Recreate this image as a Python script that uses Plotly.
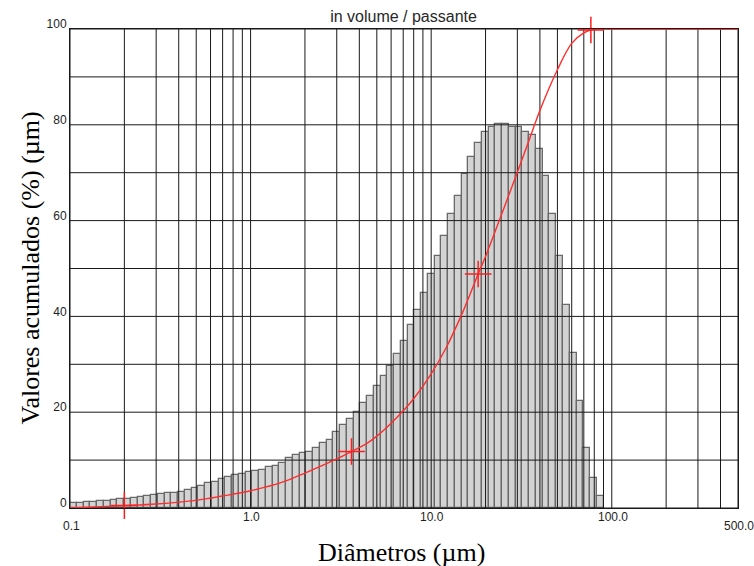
import numpy as np
import plotly.graph_objects as go

# ---------------- data ----------------
# size classes (µm): log-uniform classes between these limits
class_min = 0.1
class_max = 90.0
n_classes = 79

# differential volume per class
hist_values = [
    1.0, 1.0, 1.2, 1.3, 1.45, 1.45, 1.67, 1.9, 1.9, 2.15, 2.35, 2.5, 2.7, 2.9, 3.05, 3.05, 3.4,
    3.7, 4.1, 4.6, 5.15, 5.5, 6.05, 6.4, 6.8, 7.1, 7.5, 7.8, 7.9, 8.6, 8.8, 9.5, 10.5, 11.06, 11.4,
    11.75, 12.45, 13.6, 14.3, 15.9, 17.3, 18.5, 20.0, 22.0, 23.4, 25.5, 27.6, 29.6, 32.1, 34.9, 38.2, 41.3,
    44.9, 48.85, 52.6, 56.8, 61.3, 65.1, 69.7, 73.3, 76.3, 78.6, 79.6, 80.2, 80.2, 79.6, 79.5, 78.6, 77.9, 74.9,
    69.3, 61.3, 52.6, 42.4, 32.3, 22.4, 12.45, 6.2, 2.5,
]

# cumulative passing curve
cum_diam = [0.1, 0.2, 0.3, 0.5, 0.7, 1.0, 1.5, 2.0, 3.0, 3.62, 4.45, 5.0, 6.0, 7.0, 8.0, 10.0, 12.0,
            15.0, 18.2, 20.0, 25.0, 30.0, 35.0, 40.0, 50.0, 60.0, 70.0, 80.0, 100.0, 200.0, 500.0]
cum_pass = [0.0, 0.5, 0.85, 1.6, 2.5, 3.6, 5.4, 7.3, 10.25, 11.8, 13.6, 15.0, 17.7, 20.3, 22.8, 28.0, 33.2,
            41.0, 48.85, 52.5, 62.1, 70.1, 77.0, 83.0, 91.5, 97.0, 99.2, 100.0, 100.0, 100.0, 100.0]

# marked characteristic points
mark_diam = [0.2, 3.62, 18.2, 76.6]
mark_pass = [0.5, 11.8, 48.85, 99.8]

# grid / ticks
x_grid = [0.1, 0.2, 0.3, 0.4, 0.5, 0.6, 0.7, 0.8, 0.9,
          1, 2, 3, 4, 5, 6, 7, 8, 9,
          10, 20, 30, 40, 50, 60, 70, 80, 90,
          100, 200, 300, 400, 500]
y_grid = [0, 10, 20, 30, 40, 50, 60, 70, 80, 90, 100]
y_tickvals = [0, 20, 40, 60, 80, 100]
y_ticktext = ["0", "20", "40", "60", "80", "100"]
x_tickvals_upper = [1, 10, 100]
x_ticktext_upper = ["1.0", "10.0", "100.0"]
x_tickvals_lower = [0.1, 500]
x_ticktext_lower = ["0.1", "500.0"]

title_text = "in volume / passante"
x_title = "Diâmetros (µm)"
y_title = "Valores acumulados (%) (µm)"

# ---------------- figure ----------------
W, H = 754, 566
ML, MT, PW, PH = 70, 29, 668, 479

edges = np.geomspace(class_min, class_max, n_classes + 1)
centers = (edges[:-1] + edges[1:]) / 2
widths = np.diff(edges)

fig = go.Figure()

fig.add_trace(go.Bar(
    x=centers, y=hist_values, width=widths,
    marker=dict(color="rgb(211,211,211)", line=dict(color="rgb(105,105,105)", width=1.3)),
    hoverinfo="skip", showlegend=False,
))

# grid lines drawn over the bars
gx, gy = [], []
for v in x_grid:
    gx += [v, v, None]
    gy += [0, 100, None]
for h in y_grid:
    gx += [x_grid[0], x_grid[-1], None]
    gy += [h, h, None]
fig.add_trace(go.Scatter(x=gx, y=gy, mode="lines",
                         line=dict(color="rgb(25,25,25)", width=1),
                         hoverinfo="skip", showlegend=False))

fig.add_trace(go.Scatter(x=cum_diam, y=cum_pass, mode="lines",
                         line=dict(color="rgb(255,45,45)", width=1.4, shape="spline", smoothing=1.0),
                         hoverinfo="skip", showlegend=False))
fig.add_trace(go.Scatter(x=mark_diam, y=mark_pass, mode="markers",
                         marker=dict(symbol="cross-thin", size=19,
                                     line=dict(color="rgb(255,30,30)", width=1.5)),
                         hoverinfo="skip", showlegend=False, cliponaxis=False))

tick_font = dict(family="Liberation Sans, Arial, sans-serif", size=12, color="rgb(30,30,30)")

fig.update_layout(
    width=W, height=H,
    margin=dict(l=ML, r=W - ML - PW, t=MT, b=H - MT - PH, autoexpand=False),
    paper_bgcolor="white", plot_bgcolor="white",
    bargap=0,
    showlegend=False,
    hovermode=False,
    title=dict(text=title_text, x=403.5 / W, xanchor="center", y=1 - 16 / H, yanchor="middle",
               font=dict(family="Liberation Sans, Arial, sans-serif", size=16, color="rgb(40,40,40)")),
    xaxis=dict(type="log", range=[np.log10(x_grid[0]), np.log10(x_grid[-1])],
               showgrid=False, zeroline=False,
               showline=True, mirror=True, linecolor="rgb(25,25,25)", linewidth=1,
               showticklabels=False, ticks=""),
    yaxis=dict(range=[0, 100], showgrid=False, zeroline=False,
               showline=True, mirror=True, linecolor="rgb(25,25,25)", linewidth=1,
               tickvals=y_tickvals, ticktext=y_ticktext, ticks="",
               ticklabelshift=-5, ticklabelstandoff=0,
               tickfont=tick_font),
)

# x tick labels (staggered like the original)
for v, t in zip(x_tickvals_upper, x_ticktext_upper):
    fig.add_annotation(x=np.log10(v), xref="x", y=-8.5 / PH, yref="paper",
                       text=t, showarrow=False, xanchor="center", yanchor="middle",
                       xshift=1, font=tick_font)
for v, t in zip(x_tickvals_lower, x_ticktext_lower):
    fig.add_annotation(x=np.log10(v), xref="x", y=-18 / PH, yref="paper",
                       text=t, showarrow=False, xanchor="center", yanchor="middle",
                       xshift=1, font=tick_font)

fig.add_annotation(x=(401 - ML) / PW, xref="paper", y=-44 / PH, yref="paper",
                   text=x_title, showarrow=False, xanchor="center", yanchor="middle",
                   font=dict(family="Liberation Serif, Times New Roman, serif", size=26, color="black"))
fig.add_annotation(x=(30 - ML) / PW, xref="paper", y=0.5, yref="paper",
                   text=y_title, textangle=-90, showarrow=False, xanchor="center", yanchor="middle",
                   font=dict(family="Liberation Serif, Times New Roman, serif", size=26, color="black"))

fig.write_html(
    "out.html",
    config={"displayModeBar": False},
    post_script="document.body.style.margin='0';document.documentElement.style.overflow='hidden';",
)
